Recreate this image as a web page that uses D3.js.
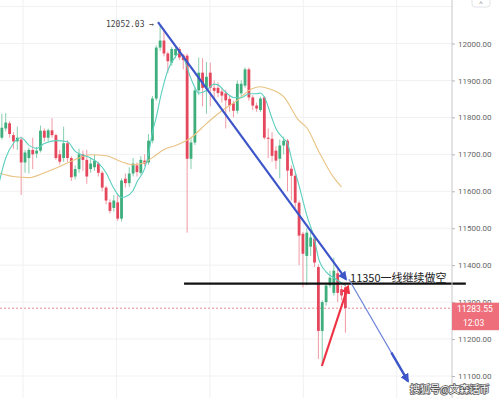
<!DOCTYPE html>
<html>
<head>
<meta charset="utf-8">
<script src="https://cdn.jsdelivr.net/npm/d3@7"></script>
<style>
  body { margin: 0; background: #fff; }
  svg { display: block; }
</style>
</head>
<body>
<div id="chart"></div>
<script>
// candle data, one value per bar (oldest first)
var candleOpen = [11783,11745,11770,11784,11752,11735,11740,11678,11690,11712,11702,11710,11764,11745,11765,11752,11700,11690,11730,11690,11640,11660,11700,
  11685,11660,11665,11675,11650,11610,11570,11555,11570,11526,11634,11622,11648,11670,11650,11683,11678,11737,11851,11989,
  12008,11973,11948,11968,11985,11968,11967,
  11688,11732,11873,11921,11880,11921,11880,11880,11870,11865,11850,11838,11818,11865,11886,11930,11854,11832,11820,
  11854,11745,11742,11710,11688,11724,11737,11661,11642,11569,11485,11425,11450,11472,11395,11222,11300,11345,11325,11378,11335,11340];
var candleClose = [11737,11772,11786,11755,11735,11745,11678,11705,11712,11700,11710,11764,11745,11765,11752,11690,11680,11730,11690,11638,11660,11700,11685,
  11640,11675,11683,11650,11610,11575,11547,11575,11526,11629,11622,11648,11675,11652,11685,11675,11737,11851,11989,12008,
  11973,11952,11985,11985,11962,11955,11688,
  11732,11873,11921,11880,11910,11880,11872,11866,11859,11846,11832,11818,11891,11891,11930,11854,11832,11824,11851,
  11745,11742,11696,11683,11724,11737,11656,11642,11569,11480,11431,11488,11475,11407,11222,11300,11345,11366,11385,11325,11318,11283.55];
var candleHigh = [11795,11810,11812,11790,11760,11775,11748,11712,11718,11745,11720,11778,11770,11770,11798,11756,11712,11775,11738,11695,11670,11715,11710,
  11712,11690,11700,11680,11655,11615,11578,11590,11590,11635,11648,11665,11690,11678,11695,11700,11755,11858,11995,12052.03,
  12040,11978,11990,11992,11990,11972,11972,
  11745,11880,11962,11960,11950,11948,11900,11895,11880,11875,11858,11845,11900,11900,11935,11935,11860,11840,11856,
  11858,11770,11760,11722,11740,11748,11742,11670,11650,11575,11490,11500,11495,11480,11402,11305,11350,11385,11420,11390,11345,11352];
var candleLow = [11730,11740,11762,11745,11715,11712,11590,11650,11648,11660,11690,11705,11735,11735,11745,11685,11672,11680,11680,11628,11632,11650,11655,
  11620,11650,11655,11640,11600,11565,11540,11545,11520,11518,11610,11612,11640,11640,11645,11668,11672,11730,11845,11980,
  11965,11920,11940,11960,11955,11930,11488,
  11660,11725,11860,11830,11810,11830,11850,11855,11840,11770,11815,11800,11810,11855,11880,11845,11820,11815,11815,
  11740,11690,11680,11660,11635,11700,11600,11575,11555,11400,11340,11345,11425,11395,11146,11133,11290,11338,11318,11300,11305,11217];

// moving averages: [bar index, price]
var maShort = [[0,11610],[2,11690],[4,11730],[6,11745],[8,11725],[10,11716],[12,11729],[15,11737],[18,11734],[20,11708],
  [24,11690],[26,11676],[28,11650],[30,11608],[32,11583],[33,11585],[35,11602],[36,11625],[38,11662],[39,11700],[40,11760],
  [41,11800],[42,11850],[44,11927],[46,11965],[47,11975],[48,11962],[50,11905],[51,11881],[52,11866],[54,11873],[56,11890],
  [57,11888],[59,11868],[61,11854],[63,11853],[65,11864],[67,11864],[68,11866],[69,11855],[71,11797],[72,11770],[74,11742],
  [75,11730],[76,11690],[78,11615],[79,11575],[80,11535],[82,11470],[83,11420],[85,11382],[87,11366],[90,11345]];
var maLong = [[0,11650],[4,11640],[8,11637],[12,11650],[16,11667],[20,11686],[24,11699],[28,11696],[32,11680],[35,11672],
  [38,11678],[40,11691],[43,11713],[46,11724],[50,11745],[54,11783],[58,11818],[62,11846],[65,11873],[68,11883],[70,11878],
  [74,11856],[78,11791],[80,11772],[83,11710],[87,11637],[89,11612]];

var priceTicks = [11100,11200,11300,11400,11500,11600,11700,11800,11900,12000];
var gridPrices = [11100,11200,11300,11400,11500,11600,11700,11800,11900,12000,12100];
var gridBars = [6.5,30.7,54.9,79.1,103.3];

var lastPrice = 11283.55;
var lastTime = "12:03";
var highLabel = "12052.03";
var highBar = 42;

// hand drawn annotations, in [bar index, price]
var trendMain = [[41.45,12058],[90.15,11362]];
var trendExt = [[90.9,11362],[106.2,11086]];
var reboundArrow = [[83.9,11127],[90.7,11343]];
var resistLine = [[48.2,11350],[121.2,11350]];
var noteAt = [91.2,11350];
var noteText = "11350一线继续做空";
var watermark = "搜狐号@文森话币";

var width = 499, height = 398, axisX = 452;

var svg = d3.select("#chart").append("svg")
  .attr("width", width)
  .attr("height", height);

var x = d3.scaleLinear().domain([0, 90]).range([-2, 345.4]);
var y = d3.scaleLinear().domain([11100, 12000]).range([376, 43.5]);

var defs = svg.append("defs");
defs.append("clipPath").attr("id", "plot")
  .append("rect").attr("x", 0).attr("y", 0).attr("width", axisX).attr("height", height);

function arrowMarker(id, color, size) {
  defs.append("marker")
    .attr("id", id)
    .attr("markerUnits", "userSpaceOnUse")
    .attr("viewBox", "0 0 10 10")
    .attr("refX", 8).attr("refY", 5)
    .attr("markerWidth", size).attr("markerHeight", size)
    .attr("orient", "auto")
    .append("path")
    .attr("d", "M0,0 L10,5 L0,10 z")
    .attr("fill", color);
}
arrowMarker("arBlue", "#3d55c9", 9);
arrowMarker("arRed", "#ee3344", 9);

// grid
var grid = svg.append("g");
grid.selectAll("line.h").data(gridPrices).enter().append("line")
  .attr("x1", 0).attr("x2", axisX)
  .attr("y1", d => y(d)).attr("y2", d => y(d))
  .attr("stroke", "#f1f1f3").attr("stroke-width", 1);
grid.selectAll("line.v").data(gridBars).enter().append("line")
  .attr("x1", d => x(d)).attr("x2", d => x(d))
  .attr("y1", 0).attr("y2", height)
  .attr("stroke", "#f1f1f3").attr("stroke-width", 1);

// last price dashed line
svg.append("line")
  .attr("x1", 0).attr("x2", axisX)
  .attr("y1", y(lastPrice)).attr("y2", y(lastPrice))
  .attr("stroke", "#e98a93").attr("stroke-width", 1)
  .attr("stroke-dasharray", "2,2");

var plot = svg.append("g").attr("clip-path", "url(#plot)");

var candles = d3.range(candleOpen.length).map(i => ({
  i: i, o: candleOpen[i], c: candleClose[i], h: candleHigh[i], l: candleLow[i]
}));
var up = "#3dae7c", down = "#e5475c";

plot.selectAll("line.wick").data(candles).enter().append("line")
  .attr("x1", d => x(d.i)).attr("x2", d => x(d.i))
  .attr("y1", d => y(d.h)).attr("y2", d => y(d.l))
  .attr("stroke", d => d.c >= d.o ? "#86cfad" : "#f19aa5")
  .attr("stroke-width", 1);

plot.selectAll("rect.body").data(candles).enter().append("rect")
  .attr("x", d => x(d.i) - 1.4)
  .attr("width", 2.8)
  .attr("y", d => y(Math.max(d.o, d.c)))
  .attr("height", d => Math.max(1, Math.abs(y(d.o) - y(d.c))))
  .attr("fill", d => d.c >= d.o ? up : down);

var line = d3.line().x(d => x(d[0])).y(d => y(d[1])).curve(d3.curveMonotoneX);
plot.append("path").datum(maLong)
  .attr("d", line).attr("fill", "none")
  .attr("stroke", "#e9c383").attr("stroke-width", 1.1);
plot.append("path").datum(maShort)
  .attr("d", line).attr("fill", "none")
  .attr("stroke", "#5ccfbf").attr("stroke-width", 1.1);

// high marker label
svg.append("text")
  .attr("x", x(highBar) - 6)
  .attr("y", y(candleHigh[highBar]) + 2.5)
  .attr("text-anchor", "end")
  .style("font", "8px 'DejaVu Sans Mono', monospace")
  .attr("fill", "#444")
  .text(highLabel + " \u2192");

// annotations
var ann = svg.append("g");
ann.append("line")
  .attr("x1", x(resistLine[0][0])).attr("y1", y(resistLine[0][1]))
  .attr("x2", x(resistLine[1][0])).attr("y2", y(resistLine[1][1]))
  .attr("stroke", "#111").attr("stroke-width", 2.4);

ann.append("line")
  .attr("x1", x(trendMain[0][0])).attr("y1", y(trendMain[0][1]))
  .attr("x2", x(trendMain[1][0])).attr("y2", y(trendMain[1][1]))
  .attr("stroke", "#3d55c9").attr("stroke-width", 2.2)
  .attr("marker-end", "url(#arBlue)");

ann.append("line")
  .attr("x1", x(trendExt[0][0])).attr("y1", y(trendExt[0][1]))
  .attr("x2", x(trendExt[1][0])).attr("y2", y(trendExt[1][1]))
  .attr("stroke", "#6f84d8").attr("stroke-width", 1.2);
// thicker tail end of the extension
var ex0 = [x(trendExt[0][0]), y(trendExt[0][1])], ex1 = [x(trendExt[1][0]), y(trendExt[1][1])];
ann.append("line")
  .attr("x1", ex0[0] + (ex1[0] - ex0[0]) * 0.72).attr("y1", ex0[1] + (ex1[1] - ex0[1]) * 0.72)
  .attr("x2", ex1[0]).attr("y2", ex1[1])
  .attr("stroke", "#3d55c9").attr("stroke-width", 2.4)
  .attr("marker-end", "url(#arBlue)");

ann.append("line")
  .attr("x1", x(reboundArrow[0][0])).attr("y1", y(reboundArrow[0][1]))
  .attr("x2", x(reboundArrow[1][0])).attr("y2", y(reboundArrow[1][1]))
  .attr("stroke", "#ee3344").attr("stroke-width", 2.2)
  .attr("marker-end", "url(#arRed)");

ann.append("text")
  .attr("x", x(noteAt[0]))
  .attr("y", y(noteAt[1]) - 1.5)
  .style("font", "11px 'Noto Sans CJK SC', 'Noto Sans', sans-serif")
  .attr("fill", "#222")
  .text(noteText);

// right price axis
svg.append("line")
  .attr("x1", axisX).attr("x2", axisX).attr("y1", 0).attr("y2", height)
  .attr("stroke", "#c8c8cc").attr("stroke-width", 1);

var yAxis = d3.axisRight(y)
  .tickValues(priceTicks)
  .tickSize(3)
  .tickPadding(3)
  .tickFormat(d3.format(".2f"));

var axisG = svg.append("g")
  .attr("transform", `translate(${axisX},0)`)
  .call(yAxis);
axisG.select(".domain").remove();
axisG.selectAll(".tick line").attr("stroke", "#b8b8bc");
axisG.selectAll(".tick text")
  .attr("fill", "#666")
  .style("font", "8px Roboto, 'Noto Sans', sans-serif");

// last price box
var boxY = y(lastPrice) - 5.5;
svg.append("rect")
  .attr("x", axisX).attr("y", boxY)
  .attr("width", width - axisX).attr("height", 27.5)
  .attr("fill", "#ee6f7b");
svg.append("text")
  .attr("x", axisX + 5).attr("y", boxY + 9.5)
  .attr("fill", "#fff")
  .style("font", "8.5px Roboto, sans-serif")
  .text(d3.format(".2f")(lastPrice));
svg.append("text")
  .attr("x", axisX + 11).attr("y", boxY + 23)
  .attr("fill", "#fff")
  .style("font", "8.5px Roboto, sans-serif")
  .text(lastTime);

// little collapse button in the corner
svg.append("rect")
  .attr("x", 472).attr("y", -4).attr("width", 18).attr("height", 11).attr("rx", 3)
  .attr("fill", "#fff").attr("stroke", "#e2e2e6");
svg.append("text")
  .attr("x", 481).attr("y", 6).attr("text-anchor", "middle")
  .attr("fill", "#777").style("font", "7px sans-serif")
  .text("^");

// watermark
svg.append("text")
  .attr("x", 410).attr("y", 393)
  .style("font", "10px 'Noto Sans CJK SC', sans-serif")
  .attr("fill", "#fff")
  .attr("stroke", "#555")
  .attr("stroke-width", 1.5)
  .attr("paint-order", "stroke")
  .text(watermark);
</script>
</body>
</html>
